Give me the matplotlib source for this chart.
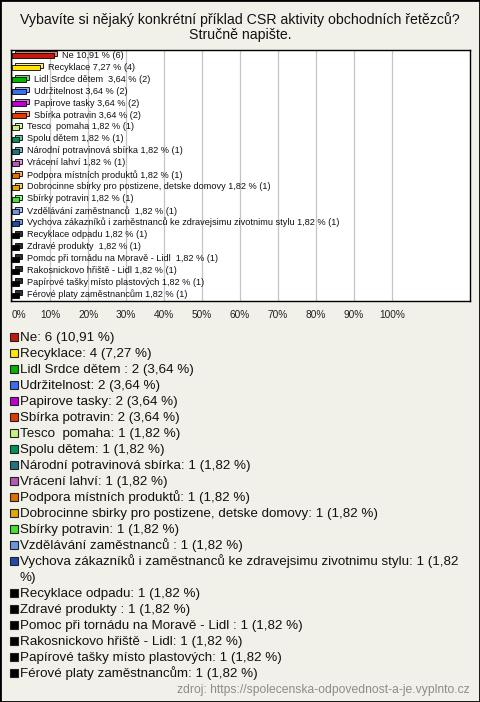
import textwrap
import matplotlib
matplotlib.use("Agg")
import matplotlib.pyplot as plt
from matplotlib.patches import Rectangle
from matplotlib.transforms import offset_copy
from matplotlib.colors import to_rgb

plt.rcParams["font.family"] = ["Liberation Sans", "DejaVu Sans"]

# Data
TITLE = "Vybavíte si nějaký konkrétní příklad CSR aktivity obchodních řetězců?\nStručně napište."
SOURCE = "zdroj: https://spolecenska-odpovednost-a-je.vyplnto.cz"

names = [
    "Ne",
    "Recyklace",
    "Lidl Srdce dětem ",
    "Udržitelnost",
    "Papirove tasky",
    "Sbírka potravin",
    "Tesco  pomaha",
    "Spolu dětem",
    "Národní potravinová sbírka",
    "Vrácení lahví",
    "Podpora místních produktů",
    "Dobrocinne sbirky pro postizene, detske domovy",
    "Sbírky potravin",
    "Vzdělávání zaměstnanců ",
    "Vychova zákazníků i zaměstnanců ke zdravejsimu zivotnimu stylu",
    "Recyklace odpadu",
    "Zdravé produkty ",
    "Pomoc při tornádu na Moravě - Lidl ",
    "Rakosnickovo hřiště - Lidl",
    "Papírové tašky místo plastových",
    "Férové platy zaměstnancům",
]
counts = [6, 4, 2, 2, 2, 2] + [1] * 15
percents = [10.91, 7.27, 3.64, 3.64, 3.64, 3.64] + [1.82] * 15
colors = [
    "#c41a0e", "#ffe600", "#00b400", "#3c6ef0", "#c000d0", "#e03c00",
    "#c8f080", "#00905a", "#1f7585", "#b55ab5", "#e07000", "#e0a800",
    "#44e034", "#6e96e0", "#2448a8",
    "#000000", "#000000", "#000000", "#000000", "#000000", "#000000",
]
x_ticks = list(range(0, 101, 10))

W, H = 480, 702
BG = "#f2f1e9"


def fx(px):
    return px / W


def fy(py):
    return 1 - py / H


def lighten(c, amt):
    r, g, b = to_rgb(c)
    return (r + (1 - r) * amt, g + (1 - g) * amt, b + (1 - b) * amt)


def fmt(p):
    return f"{p:.2f}".replace(".", ",")


fig = plt.figure(figsize=(W / 100, H / 100), dpi=100, facecolor=BG)

fig.text(0.5, fy(27), TITLE, ha="center", va="center", fontsize=10.2,
         color="#111111", linespacing=1.05)

# plot area
ax = fig.add_axes([fx(11), fy(301), fx(470) - fx(11), fy(50) - fy(301)])
ax.set_facecolor("white")
ax.set_xlim(-0.28, 120.5)
ax.set_ylim(len(names) - 0.5, -0.5)
ax.set_xticks(x_ticks)
ax.set_xticklabels([f"{t}%" for t in x_ticks], fontsize=7.3, color="#222222")
ax.get_xticklabels()[0].set_ha("left")
ax.tick_params(axis="x", length=0, pad=6.5)
ax.set_yticks([])
ax.grid(axis="x", color="#c4c4c4", lw=0.9)
ax.set_axisbelow(True)
for s in ax.spines.values():
    s.set_color("black")
    s.set_linewidth(1)

ypos = list(range(len(names)))
back_colors = [lighten(c, 0.45) if c != "#000000" else "#303030" for c in colors]
trans_back = offset_copy(ax.transData, fig=fig, x=3, y=2.2, units="dots")
ax.barh(ypos, percents, height=0.42, color=back_colors, edgecolor="black",
        lw=0.6, transform=trans_back, zorder=2)
ax.barh(ypos, percents, height=0.42, color=colors, edgecolor="black",
        lw=0.6, zorder=3)

for y, n, c, p in zip(ypos, names, counts, percents):
    ax.annotate(f"{n} {fmt(p)} % ({c})", xy=(p, y), xytext=(6, 0.5),
                textcoords="offset points", fontsize=6.6, va="center",
                ha="left", color="#111111", zorder=4)

# legend
line_y = 336.5
for n, c, p, col in zip(names, counts, percents, colors):
    label = f"{n}: {c} ({fmt(p)} %)"
    lines = textwrap.wrap(label, width=73) if len(label) > 73 else [label]
    fig.patches.append(Rectangle((fx(9.5), fy(line_y + 4)), fx(8), fy(0) - fy(8),
                                 transform=fig.transFigure, facecolor=col,
                                 edgecolor="#222222", lw=0.8))
    for ln in lines:
        fig.text(fx(20), fy(line_y + 4.8), ln, fontsize=9.6, va="baseline",
                 ha="left", color="#111111")
        line_y += 16

fig.text(fx(470), fy(693.5), SOURCE, fontsize=8.75, ha="right", va="baseline",
         color="#8c8c8c")

fig.patches.append(Rectangle((0, 0), 1, 1, transform=fig.transFigure,
                             fill=False, edgecolor="black", lw=2))

fig.savefig("out.png", dpi=100, facecolor=BG)
